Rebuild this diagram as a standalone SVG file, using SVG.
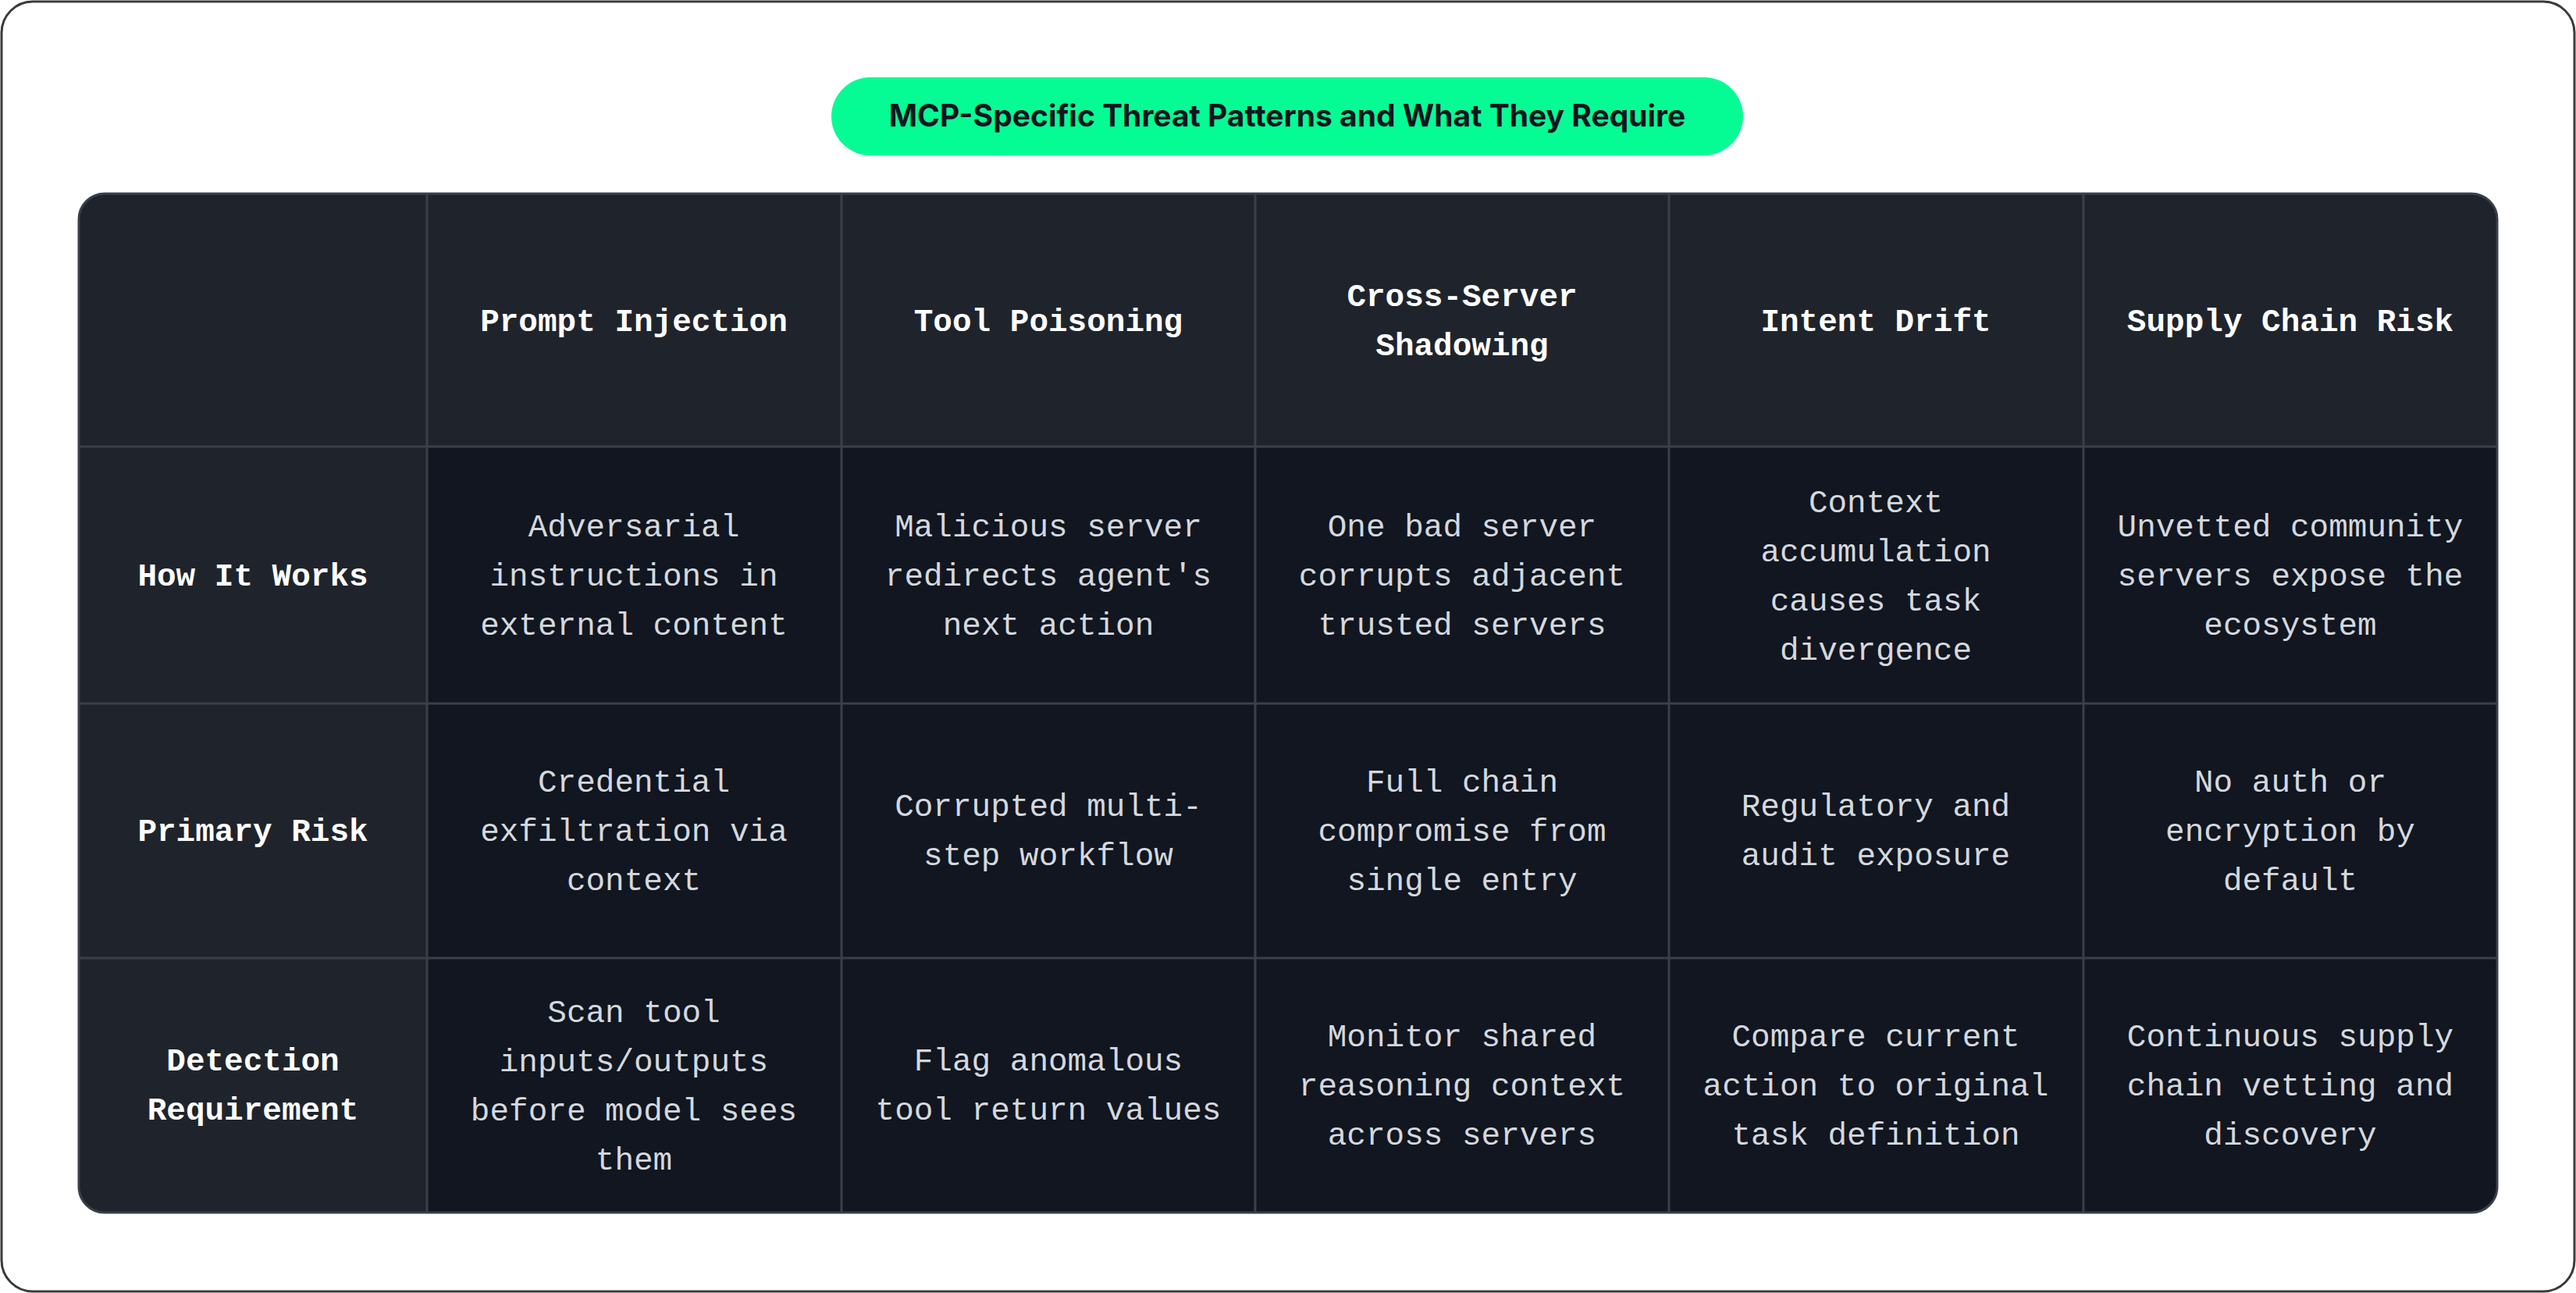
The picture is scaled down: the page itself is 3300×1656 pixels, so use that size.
<svg xmlns="http://www.w3.org/2000/svg" width="3300" height="1656" viewBox="0 0 3300 1656">
<style>
.h{font-family:"Liberation Mono","DejaVu Sans Mono",monospace;font-weight:bold;font-size:41px;fill:#ffffff;text-anchor:middle}
.b{font-family:"Liberation Mono","DejaVu Sans Mono",monospace;font-size:41px;fill:#d4d8de;text-anchor:middle}
.hd{fill:#1f242c}
.bd{fill:#111620}
.g{stroke:#3a3f48;stroke-width:3;fill:none}
</style>
<defs><clipPath id="tc"><rect x="101" y="248" width="3098" height="1305" rx="33"/></clipPath></defs>
<rect x="2" y="2" width="3296" height="1652" rx="40" fill="#fff" stroke="#3a3a3a" stroke-width="3"/>
<g id="title">
<rect x="1065" y="99" width="1168" height="100" rx="50" fill="#05fc94"/>
<text x="1649" y="162" text-anchor="middle" font-family="Inter,'Liberation Sans',sans-serif" font-weight="bold" font-size="39" fill="#111620">MCP-Specific Threat Patterns and What They Require</text>
</g>
<g id="table" clip-path="url(#tc)">
<rect x="101" y="248" width="3098" height="1305" class="bd"/>
<rect x="101" y="248" width="3098" height="324" class="hd"/>
<rect x="101" y="248" width="446" height="1305" class="hd"/>
</g>
<g id="grid">
<rect x="101" y="248" width="3098" height="1305" rx="33" class="g"/>
<path class="g" d="M547 248V1553M1078 248V1553M1608 248V1553M2138 248V1553M2669 248V1553M101 572H3199M101 901H3199M101 1227H3199"/>
</g>
<g id="headers">
<text class="h" x="812" y="424">Prompt Injection</text>
<text class="h" x="1343" y="424">Tool Poisoning</text>
<text class="h" x="1873" y="392">Cross-Server</text>
<text class="h" x="1873" y="455">Shadowing</text>
<text class="h" x="2403" y="424">Intent Drift</text>
<text class="h" x="2934" y="424">Supply Chain Risk</text>
<text class="h" x="324" y="750">How It Works</text>
<text class="h" x="324" y="1077">Primary Risk</text>
<text class="h" x="324" y="1371">Detection</text>
<text class="h" x="324" y="1434">Requirement</text>
</g>
<g id="row1">
<text class="b" x="812" y="687">Adversarial</text><text class="b" x="812" y="750">instructions in</text><text class="b" x="812" y="813">external content</text>
<text class="b" x="1343" y="687">Malicious server</text><text class="b" x="1343" y="750">redirects agent's</text><text class="b" x="1343" y="813">next action</text>
<text class="b" x="1873" y="687">One bad server</text><text class="b" x="1873" y="750">corrupts adjacent</text><text class="b" x="1873" y="813">trusted servers</text>
<text class="b" x="2403" y="656">Context</text><text class="b" x="2403" y="719">accumulation</text><text class="b" x="2403" y="782">causes task</text><text class="b" x="2403" y="845">divergence</text>
<text class="b" x="2934" y="687">Unvetted community</text><text class="b" x="2934" y="750">servers expose the</text><text class="b" x="2934" y="813">ecosystem</text>
</g>
<g id="row2">
<text class="b" x="812" y="1014">Credential</text><text class="b" x="812" y="1077">exfiltration via</text><text class="b" x="812" y="1140">context</text>
<text class="b" x="1343" y="1045">Corrupted multi-</text><text class="b" x="1343" y="1108">step workflow</text>
<text class="b" x="1873" y="1014">Full chain</text><text class="b" x="1873" y="1077">compromise from</text><text class="b" x="1873" y="1140">single entry</text>
<text class="b" x="2403" y="1045">Regulatory and</text><text class="b" x="2403" y="1108">audit exposure</text>
<text class="b" x="2934" y="1014">No auth or</text><text class="b" x="2934" y="1077">encryption by</text><text class="b" x="2934" y="1140">default</text>
</g>
<g id="row3">
<text class="b" x="812" y="1309">Scan tool</text><text class="b" x="812" y="1372">inputs/outputs</text><text class="b" x="812" y="1435">before model sees</text><text class="b" x="812" y="1498">them</text>
<text class="b" x="1343" y="1371">Flag anomalous</text><text class="b" x="1343" y="1434">tool return values</text>
<text class="b" x="1873" y="1340">Monitor shared</text><text class="b" x="1873" y="1403">reasoning context</text><text class="b" x="1873" y="1466">across servers</text>
<text class="b" x="2403" y="1340">Compare current</text><text class="b" x="2403" y="1403">action to original</text><text class="b" x="2403" y="1466">task definition</text>
<text class="b" x="2934" y="1340">Continuous supply</text><text class="b" x="2934" y="1403">chain vetting and</text><text class="b" x="2934" y="1466">discovery</text>
</g>
</svg>
